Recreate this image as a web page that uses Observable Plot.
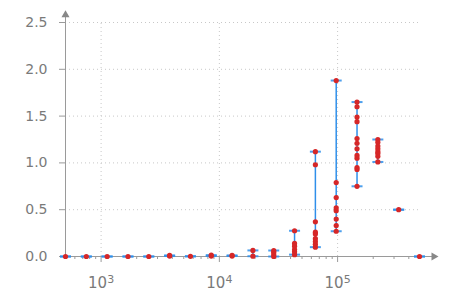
<!DOCTYPE html>
<html><head><meta charset="utf-8">
<script src="https://cdn.jsdelivr.net/npm/d3@7"></script>
<script src="https://cdn.jsdelivr.net/npm/@observablehq/plot@0.6"></script>
<style>body{margin:0;background:#fff}</style>
</head><body><div id="chart"></div>
<script>
// problem sizes (x) and measured values (y) per column
const sizes = [500, 750, 1125, 1688, 2531, 3797, 5695, 8543, 12814, 19222, 28833, 43249, 64873, 97310, 145965, 218947, 328420, 492631];
const values = [
  [0], [0], [0], [0], [0],
  [0.005, 0.012], [0.002], [0.005, 0.015], [0.005, 0.012],
  [0.003, 0.065], [0.0, 0.02, 0.046, 0.064],
  [0.02, 0.05, 0.075, 0.11, 0.14, 0.275],
  [0.10, 0.13, 0.16, 0.19, 0.24, 0.26, 0.37, 0.98, 1.12],
  [0.27, 0.33, 0.40, 0.49, 0.52, 0.63, 0.79, 1.88],
  [0.75, 0.93, 0.95, 1.05, 1.08, 1.15, 1.21, 1.26, 1.44, 1.49, 1.60, 1.65],
  [1.01, 1.07, 1.10, 1.12, 1.15, 1.18, 1.22, 1.25],
  [0.5], [0]
];
const yTicks = [0, 0.5, 1.0, 1.5, 2.0, 2.5];
const xTicks = [1e3, 1e4, 1e5];
const xTickExp = ["3", "4", "5"];

const xDomain = [sizes[0], sizes[sizes.length - 1]];
const yDomain = [0, 2.5];
const xAxisEnd = 700000, yAxisEnd = 2.62;

const points = sizes.flatMap((s, i) => values[i].map(v => ({size: s, value: v})));
const cols = sizes.map((s, i) => ({size: s, min: d3.min(values[i]), max: d3.max(values[i])}));
const caps = cols.flatMap(c => [{size: c.size, value: c.min}, {size: c.size, value: c.max}]);
const minor = [];
for (let e = 2; e <= 5; e++) for (let m = 2; m <= 9; m++) {
  const v = m * 10 ** e;
  if (v > xDomain[0] && v < xDomain[1]) minor.push(v);
}

const capSymbol = {draw(ctx) { ctx.moveTo(-5.5, 0); ctx.lineTo(5.5, 0); }};
const blue = "#2f8fea", red = "#d62728", axisC = "#9a9a9a", textC = "#7a7a7a", gridC = "#c8c8c8";

const chart = Plot.plot({
  width: 450, height: 300,
  marginLeft: 65, marginRight: 31, marginTop: 22, marginBottom: 44,
  style: {fontFamily: "DejaVu Sans", background: "#fff"},
  x: {type: "log", domain: xDomain, label: null},
  y: {domain: yDomain, label: null},
  marks: [
    Plot.ruleY(yTicks.filter(d => d > 0), {stroke: gridC, strokeDasharray: "1,3"}),
    Plot.ruleX(xTicks, {y1: yDomain[0], y2: yDomain[1], stroke: gridC, strokeDasharray: "1,3"}),
    Plot.ruleX([xDomain[0]], {y1: yDomain[0], y2: yAxisEnd - 0.04, stroke: axisC}),
    Plot.ruleY([yDomain[0]], {x1: xDomain[0], x2: xAxisEnd * 0.93, stroke: axisC}),
    Plot.dot([xDomain[0]], {x: d => d, y: () => yAxisEnd - 0.04, symbol: "triangle", r: 3, fill: "#888"}),
    Plot.dot([xAxisEnd * 0.93], {x: d => d, y: () => yDomain[0], symbol: "triangle", r: 3, rotate: 90, fill: "#888"}),
    Plot.axisY({ticks: yTicks, tickFormat: d3.format(".1f"), tickSize: 6, tickPadding: 12, fontSize: 14, stroke: axisC, fill: textC, label: null}),
    Plot.axisX({ticks: minor, tickSize: 3, tickFormat: () => "", stroke: axisC, label: null}),
    Plot.axisX({ticks: xTicks, tickSize: 6, tickPadding: 15, fontSize: 15, tickFormat: d => "10", stroke: axisC, fill: textC, label: null}),
    Plot.ruleX(cols, {x: "size", y1: "min", y2: "max", stroke: blue, strokeWidth: 1.5}),
    Plot.dot(caps, {x: "size", y: "value", symbol: capSymbol, stroke: blue, strokeWidth: 2, fill: "none", strokeOpacity: 0.85}),
    Plot.dot(points, {x: "size", y: "value", r: 2.6, fill: red})
  ]
});
document.getElementById("chart").appendChild(chart);
// superscript exponents on the major x tick labels
const groups = chart.querySelectorAll('g[aria-label="x-axis tick label"]');
const majorGroup = groups[groups.length - 1];
majorGroup.querySelectorAll("text").forEach((t, i) => {
  const sup = document.createElementNS("http://www.w3.org/2000/svg", "tspan");
  sup.setAttribute("dy", "-0.5em");
  sup.setAttribute("font-size", "11");
  sup.textContent = xTickExp[i] || "";
  t.appendChild(sup);
});
</script>
</body></html>
